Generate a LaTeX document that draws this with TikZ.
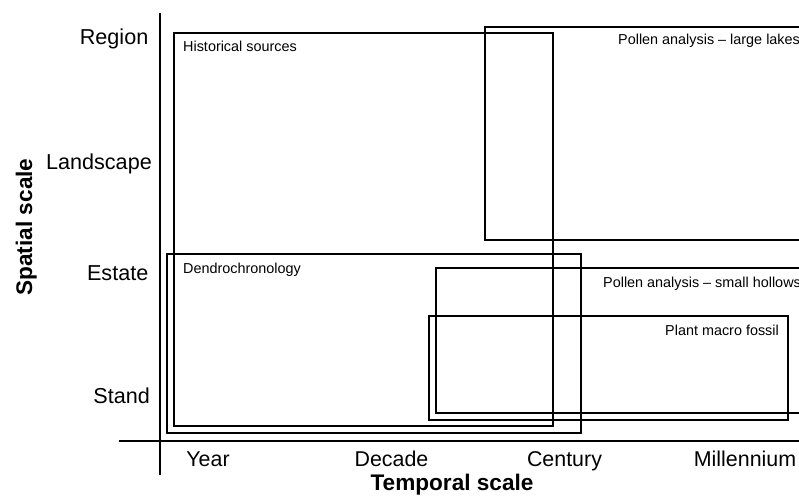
\documentclass[tikz,border=0pt]{standalone}
\usepackage{fontspec}
\setmainfont{Liberation Sans}
\begin{document}
\begin{tikzpicture}[x=1pt,y=-1pt,
  axis/.style={line width=2.4pt},
  box/.style={line width=2pt},
  boxlabel/.style={font=\fontsize{14.4}{16}\selectfont, inner sep=0pt, anchor=base west},
  ylab/.style={font=\fontsize{21.6}{24}\selectfont, inner sep=0pt, anchor=base east},
  xlab/.style={font=\fontsize{21.4}{24}\selectfont, inner sep=0pt, anchor=base},
  title/.style={font=\fontsize{22.6}{24}\selectfont\bfseries, inner sep=0pt, anchor=base}]
\useasboundingbox (0,0) rectangle (799,500);
% axes
\coordinate (vtop) at (160,13);
\coordinate (vbot) at (160,475);
\coordinate (hl) at (119,441);
\coordinate (hr) at (805,441);
\draw[axis] (vtop) -- (vbot);
\draw[axis] (hl) -- (hr);
% boxes
\draw[box] (174,33) rectangle (553,426);
\draw[box] (485,27) rectangle (810,240);
\draw[box] (167,254) rectangle (581,433);
\draw[box] (436,268) rectangle (810,413);
\draw[box] (429,316) rectangle (788,420);
% box labels
\node[boxlabel] (hist) at (183,52) {Historical sources};
\node[boxlabel] (large) at (618,44.5) {Pollen analysis – large lakes};
\node[boxlabel] (dendro) at (183,273.5) {Dendrochronology};
\node[boxlabel] (small) at (603,287) {Pollen analysis – small hollows};
\node[boxlabel] (macro) at (665,335) {Plant macro fossil};
% y labels
\node[ylab] (region) at (148.5,45) {Region};
\node[ylab] (landscape) at (152,169) {Landscape};
\node[ylab] (estate) at (148.5,280) {Estate};
\node[ylab] (stand) at (150,403) {Stand};
% x labels
\node[xlab] (year) at (208,466) {Year};
\node[xlab] (decade) at (391.5,466) {Decade};
\node[xlab] (century) at (564.5,466) {Century};
\node[xlab] (mill) at (745,466) {Millennium};
% titles
\node[title] (tx) at (452,490) {Temporal scale};
\node[title, rotate=90] (ty) at (32,227) {Spatial scale};
\end{tikzpicture}
\end{document}
